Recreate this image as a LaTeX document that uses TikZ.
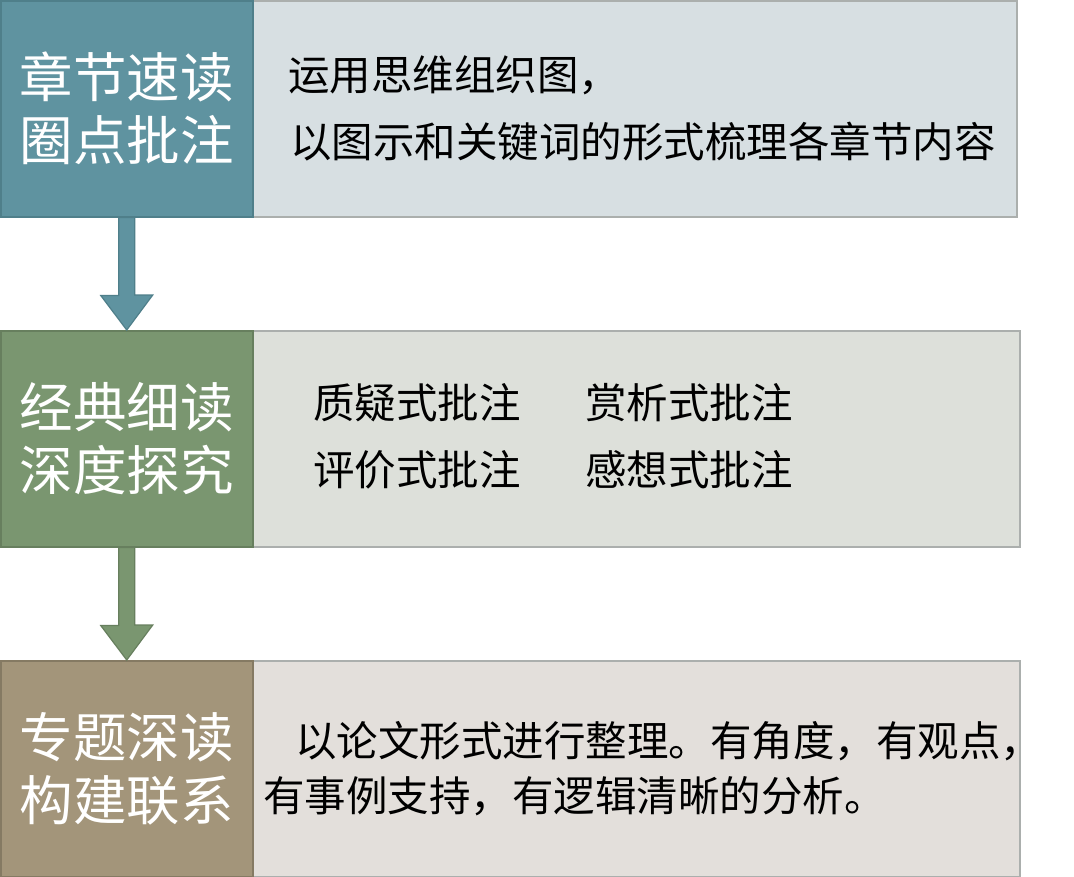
\documentclass[tikz,border=0pt]{standalone}
\usepackage{fontspec}
\setmainfont{Noto Sans CJK SC}
\newfontfamily\cjk{Noto Sans CJK SC}
\usetikzlibrary{positioning}
\definecolor{tealL}{HTML}{5F93A0}
\definecolor{tealD}{HTML}{4F7F8A}
\definecolor{greenL}{HTML}{7A9670}
\definecolor{greenD}{HTML}{677F5E}
\definecolor{brownL}{HTML}{A3957A}
\definecolor{brownD}{HTML}{857A63}
\definecolor{paleA}{HTML}{D7DFE2}
\definecolor{paleB}{HTML}{DDE0DA}
\definecolor{paleC}{HTML}{E3DFDB}
\definecolor{paleD}{HTML}{ABAFAD}
\tikzset{
  leftbox/.style={draw=#1D, fill=#1L, line width=1.5pt, minimum width=252pt, minimum height=216pt, inner sep=0pt, anchor=north west, text=white, font=\cjk\fontsize{53.5}{63}\selectfont, align=center},
  rightbox/.style={draw=paleD, fill=#1, line width=1.5pt, inner sep=0pt, anchor=north west},
  bodytext/.style={font=\cjk\fontsize{41.5}{60}\selectfont, text=black, anchor=west, inner sep=0pt},
  flowarrow/.style={draw=#1D, fill=#1L, line width=1.2pt},
}
\begin{document}
\begin{tikzpicture}[x=1pt,y=-1pt]
\useasboundingbox (0,0) rectangle (1074,876);
\fill[white] (0,0) rectangle (1074,876);
% right boxes
\node[rightbox=paleA, minimum width=764pt, minimum height=216pt] (r1) at (252,0) {};
\node[rightbox=paleB, minimum width=767pt, minimum height=216pt] (r2) at (252,330) {};
\node[rightbox=paleC, minimum width=767pt, minimum height=216pt] (r3) at (252,660) {};
% left boxes
\node[leftbox=teal] (l1) at (0,0) {章节速读\\圈点批注};
\node[leftbox=green] (l2) at (0,330) {经典细读\\深度探究};
\node[leftbox=brown] (l3) at (0,660) {专题深读\\构建联系};
% arrows
\draw[flowarrow=teal] ([xshift=-8pt]l1.south) -- ++(0,78) -- ++(-18,0) -- (l2.north) -- ++(26,-35) -- ++(-18,0) -- ([xshift=8pt]l1.south) -- cycle;
\draw[flowarrow=green] ([xshift=-8pt]l2.south) -- ++(0,78) -- ++(-18,0) -- (l3.north) -- ++(26,-35) -- ++(-18,0) -- ([xshift=8pt]l2.south) -- cycle;
% texts
\node[bodytext] (t1a) at (288,75) {运用思维组织图，};
\node[bodytext] (t1b) at (290,142) {以图示和关键词的形式梳理各章节内容};
\node[bodytext] (t2a) at (313,403) {质疑式批注};
\node[bodytext] (t2b) at (585,403) {赏析式批注};
\node[bodytext] (t2c) at (313,470) {评价式批注};
\node[bodytext] (t2d) at (585,470) {感想式批注};
\node[bodytext] (t3a) at (295,741) {以论文形式进行整理。有角度，有观点，};
\node[bodytext] (t3b) at (263,796) {有事例支持，有逻辑清晰的分析。};
\end{tikzpicture}
\end{document}
